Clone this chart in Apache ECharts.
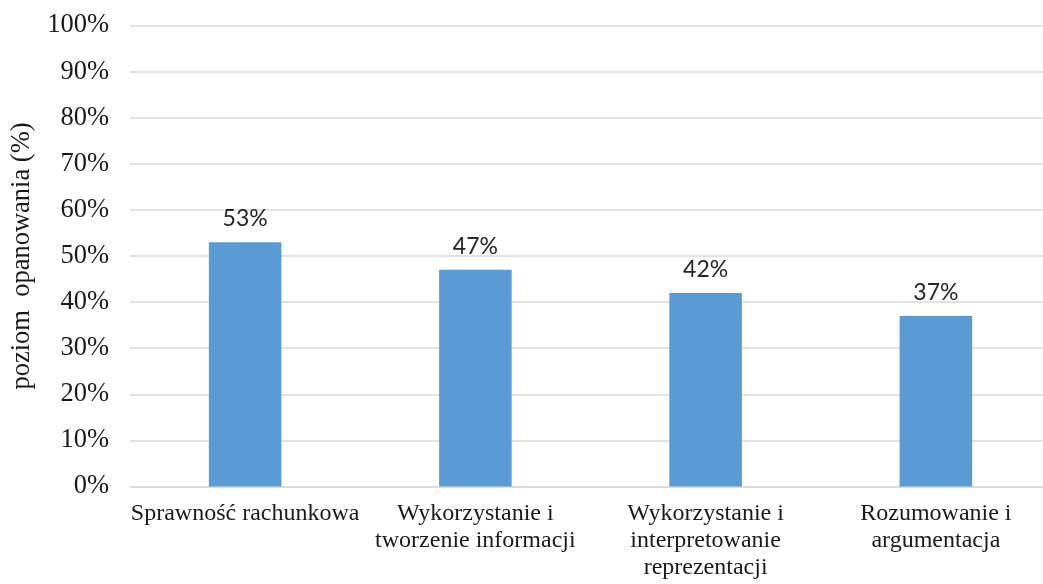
<!DOCTYPE html>
<html>
<head>
<meta charset="utf-8">
<script src="https://cdn.jsdelivr.net/npm/echarts@6/dist/echarts.min.js"></script>
<style>
html,body{margin:0;padding:0;background:#fff;overflow:hidden;}
#chart{width:1043px;height:584px;}
</style>
</head>
<body>
<div id="chart"></div>
<script>
const categories = [
  "Sprawność rachunkowa",
  "Wykorzystanie i\ntworzenie informacji",
  "Wykorzystanie i\ninterpretowanie\nreprezentacji",
  "Rozumowanie i\nargumentacja"
];
const values = [53, 47, 42, 37];
const yTicks = { min: 0, max: 100, interval: 10 };
const yAxisName = "poziom  opanowania (%)";

const serif = '"Liberation Serif", "Times New Roman", serif';
const chart = echarts.init(document.getElementById('chart'));
chart.setOption({
  animation: false,
  backgroundColor: '#ffffff',
  grid: { left: 130, width: 921, top: 25.5, bottom: 97.5, containLabel: false, outerBoundsMode: 'none' },
  xAxis: {
    type: 'category',
    data: categories,
    axisLine: { show: true, lineStyle: { color: '#d9d9d9', width: 1.5 } },
    axisTick: { show: false },
    axisLabel: {
      interval: 0,
      color: '#1a1a1a',
      fontFamily: serif,
      fontSize: 24,
      lineHeight: 27,
      margin: 14
    }
  },
  yAxis: {
    type: 'value',
    min: yTicks.min,
    max: yTicks.max,
    interval: yTicks.interval,
    name: yAxisName,
    nameLocation: 'middle',
    nameGap: 94,
    nameTextStyle: { color: '#1a1a1a', fontFamily: serif, fontSize: 26.5 },
    axisLine: { show: false },
    axisTick: { show: false },
    axisLabel: {
      formatter: '{value}%',
      color: '#1a1a1a',
      fontFamily: serif,
      fontSize: 26.5,
      margin: 21
    },
    splitLine: { lineStyle: { color: '#d9d9d9', width: 1.5 } }
  },
  series: [{
    type: 'bar',
    data: values,
    barWidth: '31.5%',
    itemStyle: { color: '#5b9bd5' },
    label: {
      show: true,
      position: 'top',
      distance: 12,
      formatter: '{c}%',
      color: '#262626',
      fontFamily: 'Lato, "Noto Sans", sans-serif',
      fontSize: 23
    }
  }]
});
</script>
</body>
</html>
